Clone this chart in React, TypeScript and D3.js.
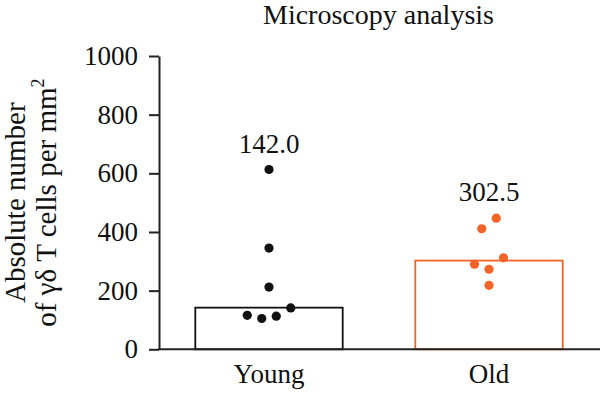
import React, { useEffect, useRef } from 'react';
import * as d3 from 'd3';

const groups = ['Young', 'Old'];
const medians = [142.0, 302.5];
const youngValues = [116, 105, 113, 141, 212, 345, 613];
const oldValues = [411, 447, 290, 273, 312, 218];
const yTicks = [0, 200, 400, 600, 800, 1000];
const colors = ['#111111', '#F26326'];

const W = 600;
const H = 394;
const FONT = '"Liberation Serif", "DejaVu Serif", serif';

// simple row-based swarm: values close in pixel space share a row, laid out in data order
const swarm = (vals: number[], y: d3.ScaleLinear<number, number>, gap: number, spacing: number) => {
    const sorted = vals.map((v, i) => ({ v, i })).sort((a, b) => a.v - b.v);
    const rows: { v: number; i: number }[][] = [];
    sorted.forEach((d) => {
        const last = rows[rows.length - 1];
        if (last && Math.abs(y(last[0].v) - y(d.v)) < gap) last.push(d);
        else rows.push([d]);
    });
    const offsets = new Array(vals.length).fill(0);
    rows.forEach((row) => {
        row.sort((a, b) => a.i - b.i);
        row.forEach((d, k) => {
            offsets[d.i] = (k - (row.length - 1) / 2) * spacing;
        });
    });
    return vals.map((v, i) => ({ v, dx: offsets[i] }));
};

const Chart = () => {
    const ref = useRef<SVGSVGElement | null>(null);

    useEffect(() => {
        if (!ref.current) return;
        const svg = d3.select(ref.current);
        svg.selectAll('*').remove();

        const x0 = 159;
        const x1 = 600;
        const yScale = d3.scaleLinear().domain([0, 1000]).range([349.3, 56]);
        const xScale = d3
            .scaleBand<string>()
            .domain(groups)
            .range([x0, 599])
            .paddingInner(0.33)
            .paddingOuter(0.165);

        // title
        svg.append('text')
            .attr('x', (x0 + x1) / 2 - 1)
            .attr('y', 24)
            .attr('text-anchor', 'middle')
            .attr('font-family', FONT)
            .attr('font-size', 28)
            .attr('fill', '#111')
            .text('Microscopy analysis');

        // y axis
        const yAxis = svg
            .append('g')
            .attr('transform', `translate(${x0},0)`)
            .call(
                d3.axisLeft(yScale)
                    .tickValues(yTicks)
                    .tickSize(10)
                    .tickSizeOuter(0)
                    .tickPadding(11)
                    .tickFormat(d3.format('d'))
            );
        yAxis.select('.domain').attr('stroke', '#222').attr('stroke-width', 2);
        yAxis.selectAll('.tick line').attr('stroke', '#222').attr('stroke-width', 2);
        yAxis.selectAll('.tick text')
            .attr('font-family', FONT)
            .attr('font-size', 27)
            .attr('fill', '#111');

        // y label, two lines
        const yl = svg
            .append('text')
            .attr('transform', `translate(25,${(yScale(0) + yScale(1000)) / 2}) rotate(-90)`)
            .attr('text-anchor', 'middle')
            .attr('font-family', FONT)
            .attr('font-size', 29)
            .attr('fill', '#111');
        yl.append('tspan').attr('x', 0).attr('dy', 0).text('Absolute number');
        const l2 = yl.append('tspan').attr('x', 0).attr('dy', 31);
        l2.append('tspan').text('of γδ T cells per mm');
        l2.append('tspan').attr('dy', -12).attr('font-size', 18).text('2');

        const datasets = [youngValues, oldValues];

        groups.forEach((g, gi) => {
            const bx = xScale(g)!;
            const bw = xScale.bandwidth();
            const cx = bx + bw / 2;
            svg.append('rect')
                .attr('x', bx)
                .attr('y', yScale(medians[gi]))
                .attr('width', bw)
                .attr('height', yScale(0) - yScale(medians[gi]))
                .attr('fill', 'none')
                .attr('stroke', colors[gi])
                .attr('stroke-width', 1.8);

            const pts = swarm(datasets[gi], yScale, 13, 14.5);
            svg.append('g')
                .selectAll('circle')
                .data(pts)
                .join('circle')
                .attr('cx', (d) => cx + d.dx)
                .attr('cy', (d) => yScale(d.v))
                .attr('r', 4.6)
                .attr('fill', colors[gi]);

            svg.append('text')
                .attr('x', cx)
                .attr('y', yScale(d3.max(datasets[gi])!) - 17)
                .attr('text-anchor', 'middle')
                .attr('font-family', FONT)
                .attr('font-size', 27)
                .attr('fill', '#111')
                .text(d3.format('.1f')(medians[gi]));

            svg.append('text')
                .attr('x', cx)
                .attr('y', 383)
                .attr('text-anchor', 'middle')
                .attr('font-family', FONT)
                .attr('font-size', 27)
                .attr('fill', '#111')
                .text(g);
        });

        // x axis baseline
        svg.append('line')
            .attr('x1', x0 - 1)
            .attr('x2', x1)
            .attr('y1', yScale(0))
            .attr('y2', yScale(0))
            .attr('stroke', '#222')
            .attr('stroke-width', 2);
    }, []);

    return <svg ref={ref} width={W} height={H} style={{ position: 'absolute', left: 0, top: 0, background: '#fff' }}></svg>;
};

export default function App() {
    return <Chart />;
}
